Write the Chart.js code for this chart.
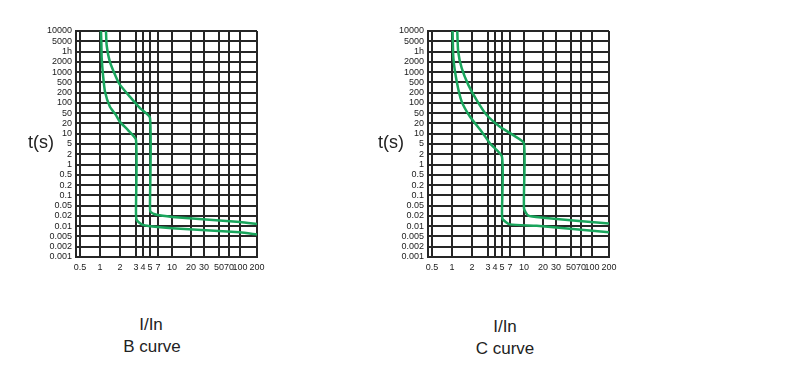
<!DOCTYPE html>
<html lang="en">
<head>
  <meta charset="UTF-8">
  <title>MCB tripping curves B / C</title>
  <script src="https://cdn.jsdelivr.net/npm/chart.js"></script>
  <style>
    body { margin: 0; background: #fff; font-family: 'Liberation Sans', Arial, sans-serif; color: #222; }
    .wrap { position: relative; width: 800px; height: 390px; }
    canvas { position: absolute; top: 0; }
    .lbl { position: absolute; transform: translate(-50%, -50%); white-space: nowrap; }
    .ts { font-size: 18px; }
    .cap { font-size: 17px; }
  </style>
</head>
<body>
  <div class="wrap">
    <canvas id="chartB" width="300" height="290" style="left:0px"></canvas>
    <canvas id="chartC" width="300" height="290" style="left:352px"></canvas>

    <div class="lbl ts" style="left:41px; top:142px">t(s)</div>
    <div class="lbl cap" style="left:151px; top:325px">I/In</div>
    <div class="lbl cap" style="left:152px; top:347px">B curve</div>

    <div class="lbl ts" style="left:391px; top:142px">t(s)</div>
    <div class="lbl cap" style="left:505px; top:327px">I/In</div>
    <div class="lbl cap" style="left:505px; top:349px">C curve</div>
  </div>

  <script>
    // axis ticks (I/In and t in seconds; "1h" = 3600 s)
    const xLabels = ['0.5', '1', '2', '3', '4', '5', '7', '10', '20', '30', '50', '70', '100', '200'];
    const xValues = [0.5, 1, 2, 3, 4, 5, 7, 10, 20, 30, 50, 70, 100, 200];
    const yLabels = ['10000', '5000', '1h', '2000', '1000', '500', '200', '100', '50', '20', '10', '5', '2', '1',
                     '0.5', '0.2', '0.1', '0.05', '0.02', '0.01', '0.005', '0.002', '0.001'];
    const yValues = [10000, 5000, 3600, 2000, 1000, 500, 200, 100, 50, 20, 10, 5, 2, 1,
                     0.5, 0.2, 0.1, 0.05, 0.02, 0.01, 0.005, 0.002, 0.001];

    // B curve
    const bUpperI = [1.23, 1.26, 1.41, 1.78, 2, 2.58, 3.54, 5, 5, 5.1, 6.6, 10, 100, 200];
    const bUpperT = [10000, 4400, 2000, 650, 400, 150, 70, 33, 0.045, 0.029, 0.022, 0.0187, 0.0133, 0.0115];
    const bLowerI = [1.035, 1.05, 1.06, 1.11, 1.19, 1.41, 1.74, 2, 2.45, 3, 3, 3.1, 3.79, 5, 10, 100, 200];
    const bLowerT = [10000, 4400, 2500, 820, 217, 77, 42, 23, 12.8, 6.6, 0.026, 0.015, 0.0113, 0.01, 0.0087, 0.0066, 0.0057];

    // C curve
    const cUpperI = [1.2, 1.24, 1.4, 1.76, 2.25, 2.9, 4.68, 7.6, 10, 10, 11.7, 20, 200];
    const cUpperT = [10000, 3560, 1300, 400, 121, 42.5, 16, 9.1, 5.2, 0.039, 0.0204, 0.0177, 0.012];
    const cLowerI = [1.02, 1.05, 1.18, 1.4, 1.87, 2.56, 3.26, 5, 5, 5.15, 7, 15.9, 200];
    const cLowerT = [10000, 2430, 521, 109, 36.5, 11.5, 5.2, 1.7, 0.025, 0.016, 0.0113, 0.0103, 0.0066];

    // where each x tick sits along the (hand drawn, non-log) grid, 0..181
    const xTickPos = [4, 24, 44, 60, 67, 74, 82, 96, 115, 128, 143, 153, 164, 181];

    const green = '#19a55c';
    const gridColor = '#262626';

    // map a current multiple onto the drawn grid (log interpolation between ticks)
    function xPos(v) {
      for (let j = 0; j < xValues.length - 1; j++) {
        if (v <= xValues[j + 1] || j === xValues.length - 2) {
          const f = Math.log(v / xValues[j]) / Math.log(xValues[j + 1] / xValues[j]);
          return xTickPos[j] + f * (xTickPos[j + 1] - xTickPos[j]);
        }
      }
    }
    // map a time onto the evenly spaced rows
    function yPos(t) {
      for (let i = 0; i < yValues.length - 1; i++) {
        if (t >= yValues[i + 1] || i === yValues.length - 2) {
          const f = Math.log(yValues[i] / t) / Math.log(yValues[i] / yValues[i + 1]);
          return i + f;
        }
      }
    }

    function series(I, T) {
      return {
        data: I.map((v, k) => ({ x: xPos(v), y: yPos(T[k]) })),
        borderColor: green,
        borderWidth: 2.5,
        pointRadius: 0,
        tension: 0.2,
        fill: false
      };
    }

    const tickFont = { family: "'Liberation Sans', Arial, sans-serif", size: 9 };

    function makeChart(id, curves) {
      new Chart(document.getElementById(id), {
        type: 'line',
        data: { datasets: curves },
        options: {
          responsive: false,
          animation: false,
          layout: { padding: { top: 31, right: 43, left: 0, bottom: 0 } },
          plugins: { legend: { display: false }, tooltip: { enabled: false } },
          scales: {
            x: {
              type: 'linear', min: 0, max: 181,
              afterBuildTicks: s => { s.ticks = xTickPos.map(v => ({ value: v })); },
              afterFit: s => { s.height = 33; },
              grid: { color: gridColor, lineWidth: 2, drawTicks: false },
              border: { color: gridColor, width: 2 },
              ticks: { autoSkip: false, maxRotation: 0, padding: 5, color: '#222', font: tickFont,
                       callback: (v, i) => xLabels[i] }
            },
            y: {
              type: 'linear', min: 0, max: yLabels.length - 1, reverse: true,
              afterBuildTicks: s => { s.ticks = yLabels.map((_, i) => ({ value: i })); },
              afterFit: s => { s.width = 76; },
              grid: { color: gridColor, lineWidth: 2, drawTicks: false },
              border: { color: gridColor, width: 2 },
              ticks: { autoSkip: false, padding: 4, color: '#222', font: tickFont,
                       callback: (v, i) => yLabels[i] }
            }
          }
        }
      });
    }

    makeChart('chartB', [series(bUpperI, bUpperT), series(bLowerI, bLowerT)]);
    makeChart('chartC', [series(cUpperI, cUpperT), series(cLowerI, cLowerT)]);
  </script>
</body>
</html>
